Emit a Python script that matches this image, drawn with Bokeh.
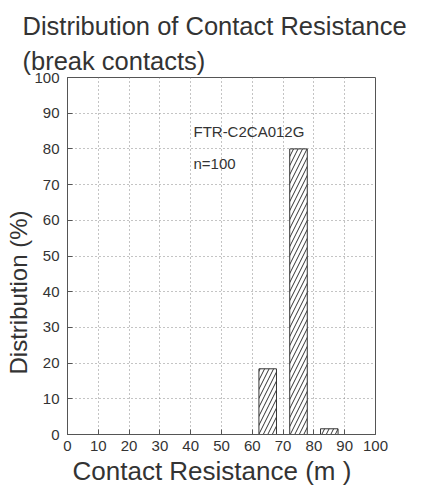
from bokeh.plotting import figure
from bokeh.models import FixedTicker, Range1d, Title
from bokeh.core.properties import value
from bokeh.embed import file_html
from bokeh.resources import INLINE

# data
bin_centers = [65, 75, 85]
distribution = [18.4, 80.0, 1.6]
bar_width = 5.7
x_ticks = [0, 10, 20, 30, 40, 50, 60, 70, 80, 90, 100]
y_ticks = [0, 10, 20, 30, 40, 50, 60, 70, 80, 90, 100]
model_name = "FTR-C2CA012G"
sample_text = "n=100"
x_title = "Contact Resistance (m )"
y_title = "Distribution (%)"

FONT = "Liberation Sans"
TXT = "#333333"

p = figure(width=410, height=485, output_backend="svg", toolbar_location=None,
           x_range=Range1d(0, 100), y_range=Range1d(0, 100),
           min_border_left=67, min_border_right=35, min_border_top=77, min_border_bottom=50)

p.title.text = "Distribution of Contact Resistance\n(break contacts)"
p.title.text_font = FONT
p.title.text_font_size = "25.5px"
p.title.text_font_style = "normal"
p.title.text_color = TXT
p.title.align = "left"
p.title.offset = -45
p.title.standoff = 6
p.title.text_line_height = 1.25

p.vbar(x=bin_centers, top=distribution, width=bar_width, bottom=0,
       fill_color="white", line_color=TXT, line_width=1,
       hatch_pattern="/", hatch_color=TXT, hatch_scale=9, hatch_weight=1)

p.text(x=[40.9, 40.9], y=[84.9, 76.0], text=[model_name, sample_text],
       text_font=value(FONT), text_font_size="15px", text_color=TXT,
       text_baseline="middle", text_align="left")

for ax in (p.xaxis[0], p.yaxis[0]):
    ax.major_tick_in = 5
    ax.major_tick_out = 0
    ax.minor_tick_line_color = None
    ax.axis_line_color = "#555555"
    ax.major_tick_line_color = "#555555"
    ax.major_label_text_font = FONT
    ax.major_label_text_font_size = "15px"
    ax.major_label_text_color = TXT

p.xaxis.ticker = FixedTicker(ticks=x_ticks)
p.yaxis.ticker = FixedTicker(ticks=y_ticks)
p.xaxis.major_label_standoff = 6
p.yaxis.major_label_standoff = 8

# axis titles as side titles, so they can be offset along the axis
xt = Title(text=x_title, align="left", offset=5, standoff=0,
           text_font=FONT, text_font_size="26px", text_font_style="normal",
           text_color=TXT)
p.add_layout(xt, "below")
yt = Title(text=y_title, align="left", offset=60, standoff=0,
           text_font=FONT, text_font_size="24px", text_font_style="normal",
           text_color=TXT)
p.add_layout(yt, "left")

p.grid.grid_line_color = "#888888"
p.grid.grid_line_dash = "1 3"
p.grid.grid_line_width = 1
p.outline_line_color = "#555555"

open("out.html", "w").write(file_html(p, INLINE))
